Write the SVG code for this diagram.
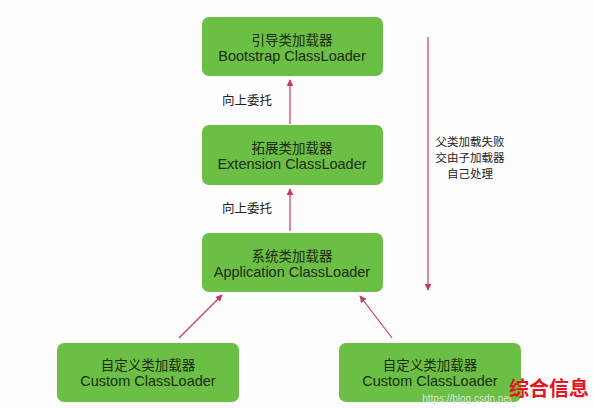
<svg xmlns="http://www.w3.org/2000/svg" width="594" height="408" viewBox="0 0 594 408">
<style>
.box{fill:#6bbf45;}
.t{font-family:"Noto Sans CJK SC","Liberation Sans",sans-serif;font-size:13.5px;fill:#1e2b12;text-anchor:middle;}
.e{font-family:"Liberation Sans","Noto Sans CJK SC",sans-serif;font-size:14.5px;fill:#1e2b12;text-anchor:middle;}
.lbl{font-family:"Noto Sans CJK SC",sans-serif;font-size:12.5px;fill:#222;}
.side{font-family:"Noto Sans CJK SC",sans-serif;font-size:11.5px;fill:#222;text-anchor:middle;}
.c{stroke:#c63a5e;stroke-width:1.2;fill:none;marker-end:url(#ah);}
</style>
<defs>
<marker id="ah" viewBox="0 0 10 10" refX="9" refY="5" markerWidth="7" markerHeight="7" markerUnits="userSpaceOnUse" orient="auto">
<path d="M0,0 L10,5 L0,10 z" fill="#c63a5e"/>
</marker>
</defs>
<rect width="594" height="408" fill="#fdfdfd"/>
<g id="connectors">
<line class="c" x1="290" y1="124" x2="290" y2="80"/>
<line class="c" x1="290" y1="231" x2="290" y2="189"/>
<line class="c" x1="179" y1="338" x2="222" y2="295"/>
<line class="c" x1="392" y1="338" x2="360" y2="296"/>
<line class="c" x1="428" y1="37" x2="428" y2="290"/>
<text class="lbl" x="222" y="105">向上委托</text>
<text class="lbl" x="222" y="213">向上委托</text>
<text class="side" x="470" y="146">父类加载失败</text>
<text class="side" x="470" y="162">交由子加载器</text>
<text class="side" x="470" y="178">自己处理</text>
</g>
<g id="bootstrap">
<rect class="box" x="202" y="17" width="181" height="59" rx="7"/>
<text class="t" x="292" y="44.5">引导类加载器</text>
<text class="e" x="292" y="61">Bootstrap ClassLoader</text>
</g>
<g id="extension">
<rect class="box" x="202" y="125" width="181" height="60" rx="7"/>
<text class="t" x="292" y="152.5">拓展类加载器</text>
<text class="e" x="292" y="169">Extension ClassLoader</text>
</g>
<g id="application">
<rect class="box" x="202" y="233" width="181" height="59" rx="7"/>
<text class="t" x="292" y="260.5">系统类加载器</text>
<text class="e" x="292" y="277">Application ClassLoader</text>
</g>
<g id="custom1">
<rect class="box" x="57" y="343" width="182" height="59" rx="7"/>
<text class="t" x="148" y="370">自定义类加载器</text>
<text class="e" x="148" y="386">Custom ClassLoader</text>
</g>
<g id="custom2">
<rect class="box" x="339" y="343" width="182" height="59" rx="7"/>
<text class="t" x="430" y="370">自定义类加载器</text>
<text class="e" x="430" y="386">Custom ClassLoader</text>
</g>
<text x="467" y="402" font-family="Liberation Sans,sans-serif" font-size="10" fill="#d8e8d0" text-anchor="middle">https://blog.csdn.net</text>
<text x="549" y="396" font-family="Noto Sans CJK SC,sans-serif" font-size="20" font-weight="bold" fill="#e8141c" text-anchor="middle">综合信息</text>
</svg>
